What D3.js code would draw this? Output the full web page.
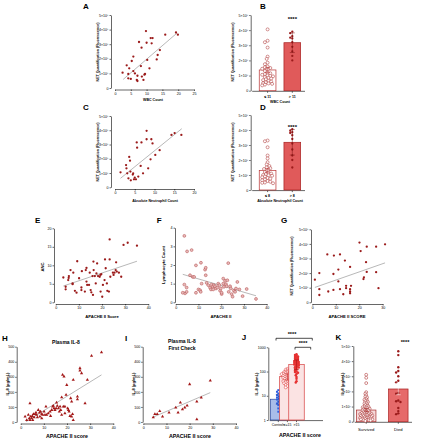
<!DOCTYPE html>
<html><head><meta charset="utf-8">
<script src="https://cdn.jsdelivr.net/npm/d3@7"></script>
<style>body{margin:0;background:#fff}svg{display:block}text{font-family:"Liberation Sans",Arial,sans-serif}</style>
</head><body><script>
// ---------------- DATA ----------------
// A: WBC count vs NET quantification (x10^6)
const ptsA = [[2.4,1.05],[3.7,1.55],[4.2,0.96],[4.5,1.35],[4.2,0.66],[5.0,0.62],[5.3,1.85],[5.8,2.15],[5.8,1.16],[6.3,1.0],[6.9,0.55],[7.1,0.48],[7.1,0.84],[7.6,3.15],[8.2,1.5],[8.4,2.76],[8.5,0.78],[9.0,0.55],[9.3,0.91],[9.5,0.96],[9.8,3.9],[10.0,3.1],[10.2,1.92],[10.9,1.35],[11.3,3.42],[11.6,3.06],[11.9,3.42],[13.2,1.96],[13.5,2.26],[14.2,2.6],[15.9,3.65],[19.3,3.8],[19.9,3.65]];
const fitA = [[2.6,0.59],[19.5,3.74]];
// B: WBC <=11 vs >11
const catsB = ["≤ 11","> 11"];
const grpB1 = [4.05,3.3,3.2,2.85,2.25,2.1,1.85,1.75,1.6,1.55,1.5,1.45,1.4,1.3,1.2,1.15,1.1,1.05,1.0,0.98,0.95,0.9,0.85,0.8,0.75,0.7,0.65,0.6,0.55,0.5,0.48,0.45,0.4,0.35];
const grpB2 = [3.9,3.8,3.6,3.5,3.45,3.2,2.9,2.6,2.3,2.0];
const meanB = [1.37,3.17];
const errB = [0.17,0.65];
// C: ANC vs NET
const ptsC = [[1.4,1.05],[2.8,1.56],[2.9,1.33],[3.1,0.98],[3.4,0.63],[3.6,2.13],[3.8,1.87],[3.9,1.1],[4.0,0.49],[4.5,0.89],[4.6,0.98],[4.8,0.56],[5.0,0.68],[5.3,0.56],[5.5,3.15],[5.6,2.78],[5.9,0.75],[6.5,1.5],[6.7,3.15],[7.1,0.98],[8.0,3.96],[8.0,3.37],[8.4,1.33],[9.2,3.37],[9.5,3.08],[9.0,1.96],[10.2,2.27],[11.3,2.6],[14.3,3.67],[15.1,3.8],[16.8,3.67]];
const fitC = [[1.4,0.63],[16.9,4.11]];
// D: ANC <=8 vs >8
const catsD = ["≤ 8","> 8"];
const grpD1 = [3.3,3.25,2.85,2.3,2.1,1.85,1.7,1.6,1.5,1.45,1.4,1.3,1.2,1.15,1.1,1.05,1.0,0.98,0.95,0.9,0.85,0.8,0.75,0.7,0.65,0.6,0.55,0.5,0.48,0.45];
const grpD2 = [4.05,3.95,3.85,3.8,3.65,3.4,3.1,2.7,2.3,2.0,1.5];
const meanD = [1.31,3.18];
const errD = [0.13,0.85];
// E: APACHE II vs ANC
const ptsE = [[3.3,6.7],[4.3,3.5],[4.3,4.2],[5.4,6.0],[5.6,6.6],[5.7,7.1],[6.4,8.7],[7.3,5.1],[7.3,4.9],[7.6,8.0],[8.3,3.1],[9.0,2.6],[9.3,11.1],[10.1,6.5],[11.1,3.3],[11.1,4.0],[11.3,8.4],[12.6,2.9],[13.0,8.7],[13.3,9.3],[13.3,5.6],[13.6,4.7],[14.4,4.7],[14.7,8.0],[15.1,3.3],[15.4,2.7],[15.9,7.1],[16.1,2.0],[16.3,11.0],[16.4,8.7],[16.9,7.1],[17.3,5.1],[17.6,7.8],[17.9,10.5],[18.3,7.1],[19.0,6.9],[19.3,7.4],[19.4,2.9],[19.7,7.6],[20.1,1.5],[20.4,4.7],[21.1,6.0],[21.6,9.2],[21.3,11.6],[22.1,5.1],[22.3,3.1],[23.0,2.9],[23.3,17.0],[23.3,11.6],[23.6,6.9],[24.7,8.0],[25.0,7.4],[25.4,8.0],[25.9,8.7],[26.1,10.8],[26.4,8.3],[27.3,8.0],[28.3,6.9],[29.3,15.5],[31.1,16.1],[35.1,15.3]];
const fitE = [[3.3,4.4],[35.1,11.1]];
// F: APACHE II vs lymphocyte count
const ptsF = [[3.8,3.56],[5.0,2.73],[7.0,2.8],[3.8,0.95],[4.1,0.48],[4.8,0.79],[4.8,0.56],[3.1,0.51],[6.3,1.45],[7.5,1.36],[8.1,1.36],[8.9,1.98],[8.9,0.51],[10.0,0.69],[10.7,0.65],[11.0,0.56],[11.1,2.12],[11.4,1.0],[12.9,1.75],[13.2,1.45],[13.2,1.85],[13.6,1.04],[14.3,0.92],[15.1,0.78],[15.5,0.69],[15.8,0.95],[16.3,0.83],[16.5,0.69],[16.8,0.92],[17.3,0.86],[17.7,0.74],[18.3,0.79],[18.7,1.0],[19.2,0.92],[19.5,0.62],[19.8,0.74],[20.2,0.44],[20.2,0.51],[20.9,1.27],[20.9,1.0],[21.2,0.83],[21.7,1.15],[22.1,0.97],[22.4,0.86],[22.7,1.18],[23.1,2.1],[23.3,0.56],[23.9,0.86],[24.2,0.74],[24.6,0.44],[25.0,0.3],[25.6,0.62],[26.1,0.56],[26.5,0.74],[27.1,1.09],[28.0,0.69],[29.4,0.33],[31.2,0.71],[35.3,0.18]];
const fitF = [[3.1,1.5],[35.3,0.35]];
// G: APACHE II vs NET
const ptsG = [[1.1,1.55],[3.0,2.0],[3.0,0.9],[3.0,0.5],[6.4,3.28],[6.8,0.74],[9.0,0.85],[9.0,1.94],[9.2,3.2],[11.1,2.24],[11.1,1.43],[11.8,3.28],[11.8,0.9],[13.2,0.55],[13.9,2.86],[14.4,0.97],[14.4,1.13],[16.1,2.42],[16.1,0.9],[16.1,0.62],[16.1,0.74],[16.5,1.13],[20.1,4.09],[20.6,3.51],[21.8,1.59],[22.0,1.71],[22.9,2.75],[23.2,2.08],[23.2,3.81],[27.2,3.81],[27.2,2.06],[28.2,0.97],[31.0,3.97]];
const fitG = [[1.1,1.02],[31,2.7]];
// H: APACHE II vs plasma IL-8
const ptsH = [[1.9,36],[2.6,13],[3.3,47],[3.7,24],[4.0,124],[4.0,13],[4.3,36],[4.7,24],[5.0,40],[5.2,13],[5.5,53],[5.8,31],[6.2,53],[6.6,62],[6.9,47],[7.2,31],[7.6,80],[8.1,62],[8.3,36],[8.6,69],[9.1,24],[9.1,53],[9.5,47],[10.1,69],[10.5,47],[10.9,102],[11.2,47],[11.9,58],[12.7,69],[12.9,40],[13.4,80],[13.8,102],[14.1,107],[14.4,91],[14.8,80],[15.3,91],[15.5,129],[15.8,107],[16.3,91],[16.7,69],[17.0,102],[17.3,80],[17.7,164],[17.7,47],[18.1,313],[18.4,102],[18.7,302],[19.1,102],[19.1,58],[19.6,180],[19.9,246],[20.3,91],[20.6,80],[20.9,69],[21.3,40],[21.6,158],[22.0,36],[22.0,135],[22.4,53],[22.7,280],[22.7,13],[24.5,151],[24.5,169],[25.6,357],[25.6,342],[26.3,324],[27.8,124],[28.8,280],[30.6,440],[34.9,462]];
const fitH = [[2.3,2],[34.9,313]];
// I: first check
const ptsI = [[4.3,31],[5.0,53],[6.0,53],[7.1,73],[8.3,36],[11.1,62],[14.0,95],[15.0,62],[16.0,129],[16.9,84],[17.9,95],[18.9,109],[20.0,251],[23.1,135],[23.1,18],[25.0,162],[28.9,275]];
const fitI = [[4,31],[28.9,195]];
// J: IL-8 by group (log)
const catsJ = ["Controls","<=15",">15"];
const grpJ0 = [17,14.6,12.5,10.6,9.5,8.5,7.8,7,6.6,5.7,4.8,4.1,3.0,2.2];
const grpJ1 = [130,120,110,105,100,95,92,90,88,85,82,80,78,76,74,72,70,68,66,64,62,60,58,56,55,54,52,50,48,46,45,44,42,40,38,36,35,33,30,28,25,22];
const grpJ2 = [520,480,450,420,400,380,360,340,320,300,280,270,260,250,240,230,220,210,200,195,190,180,170,160,150,145,140,130,120,110,100,95,90,80,70,60,50,40,35];
const meanJ = [7.2,62,194];
const loJ = [4.5,45,120];
const hiJ = [11.5,80,300];
// K: survived vs died
const catsK = ["Survived","Died"];
const grpK1 = [310,290,255,195,185,175,165,160,150,145,140,135,130,125,120,115,110,105,100,100,95,95,90,90,85,85,80,80,75,75,70,70,65,65,60,60,58,55,55,52,50,50,48,45,45,42,40,40,38,35,35,32,30,30,28,25,25,22,20,20,18,15,15,12,10,10,8,5];
const grpK2 = [465,440,360,335,325,300,270,260,190,185,140,135,130,90,70,55,50];
const meanK = [77,216];
const errK = [10,38];
const ticksNET = [0,1,2,3,4,5];

// ---------------- DRAW ----------------
const svg = d3.select("body").append("svg").attr("width",424).attr("height",440);
const DARK = "#9b1b1b";
const fmtE6 = d => d === 0 ? "0" : d + "×10⁶";
const fmtE2 = d => d === 0 ? "0" : d + "×10²";

function styleAxis(g, fs){
  g.selectAll("path,line").attr("stroke","#000").attr("stroke-width",0.6);
  g.selectAll("text").attr("font-size",fs).attr("fill","#000");
}
function text(x,y,s,o={}){
  const t = svg.append("text").attr("x",x).attr("y",y).text(s)
    .attr("font-size",o.fs||4).attr("text-anchor",o.anchor||"middle")
    .attr("font-weight",o.bold?"bold":"normal").attr("fill",o.fill||"#000");
  if(o.rot) t.attr("transform",`rotate(-90,${x},${y})`);
  return t;
}
function yAxis(x, scale, ticks, fmt, fs){
  svg.append("g").attr("transform",`translate(${x},0)`)
    .call(d3.axisLeft(scale).tickValues(ticks).tickFormat(fmt).tickSize(1.5).tickSizeOuter(0).tickPadding(1))
    .call(g=>styleAxis(g,fs||3.6));
}
function xAxis(y, scale, ticks, fs){
  svg.append("g").attr("transform",`translate(0,${y})`)
    .call(d3.axisBottom(scale).tickValues(ticks).tickSize(1.5).tickSizeOuter(0).tickPadding(1))
    .call(g=>styleAxis(g,fs||3.6));
}

function scatter(o){
  const x = d3.scaleLinear().domain(o.xd).range(o.xr);
  const y = d3.scaleLinear().domain(o.yd).range(o.yr);
  yAxis(o.ay, y, o.yt, o.yfmt || (d=>d), o.tfs);
  xAxis(o.ax, x, o.xt, o.tfs);
  svg.append("line").attr("x1",x(o.fit[0][0])).attr("y1",y(o.fit[0][1]))
    .attr("x2",x(o.fit[1][0])).attr("y2",y(o.fit[1][1]))
    .attr("stroke","#9a9a9a").attr("stroke-width",0.7);
  const g = svg.append("g");
  if(o.mark === "tri"){
    g.selectAll("path").data(o.data).join("path")
      .attr("transform",d=>`translate(${x(d[0])},${y(d[1])})`)
      .attr("d",d3.symbol(d3.symbolTriangle,4.5)).attr("fill","#a31818");
  } else if(o.mark === "ring"){
    g.selectAll("circle").data(o.data).join("circle")
      .attr("cx",d=>x(d[0])).attr("cy",d=>y(d[1])).attr("r",1.45)
      .attr("fill","#e7b9b9").attr("stroke","#b04848").attr("stroke-width",0.5);
  } else {
    g.selectAll("circle").data(o.data).join("circle")
      .attr("cx",d=>x(d[0])).attr("cy",d=>y(d[1])).attr("r",1.15).attr("fill",DARK);
  }
  return {x,y};
}

// beeswarm-like placement limited to a half width
function swarm(vals, y, cx, r, maxHalf, sepF){
  const pts = vals.map(v=>({v, py:y(v)})).sort((a,b)=>a.py-b.py);
  const placed = [];
  const step = r*0.6;
  const cands = [0];
  for(let k=1; k*step<=maxHalf; k++){ cands.push(-k*step, k*step); }
  const need = 2*r*sepF;
  for(const p of pts){
    let best = cands[0], bestD = -1;
    for(const off of cands){
      const px = cx+off;
      let md = Infinity;
      for(const q of placed){ const d = Math.hypot(q.px-px,q.py-p.py); if(d<md) md=d; }
      if(md >= need){ best = off; bestD = md; break; }
      if(md > bestD){ bestD = md; best = off; }
    }
    p.px = cx+best; placed.push(p);
  }
  return placed;
}

function marks(g, pts, type, st){
  if(type==="square"){
    g.selectAll(null).data(pts).join("rect")
      .attr("x",d=>d.px-1).attr("y",d=>d.py-1).attr("width",2).attr("height",2).attr("fill",st.fill);
  } else {
    g.selectAll(null).data(pts).join("circle")
      .attr("cx",d=>d.px).attr("cy",d=>d.py).attr("r",st.r)
      .attr("fill",st.fill).attr("stroke",st.stroke||"none").attr("stroke-width",st.sw||0);
  }
}

function barPanel(o){
  const y = o.y;
  const x = d3.scalePoint().domain(o.cats).range(o.centers);
  yAxis(o.ay, y, o.yt, o.yfmt, o.tfs);
  const xa = svg.append("g");
  xa.append("line").attr("x1",o.ay+1.5).attr("x2",o.xEnd).attr("y1",o.ax).attr("y2",o.ax)
    .attr("stroke","#000").attr("stroke-width",0.6);
  o.cats.forEach(c=>{
    xa.append("line").attr("x1",x(c)).attr("x2",x(c)).attr("y1",o.ax).attr("y2",o.ax+1.5)
      .attr("stroke","#000").attr("stroke-width",0.6);
    text(x(c), o.labY, c, {fs:o.lfs||3.8, bold:o.lbold});
  });
  o.cats.forEach((c,i)=>{
    const s = o.styles[i];
    const top = y(o.means[i]);
    svg.append("rect").attr("x",x(c)-o.bw/2).attr("y",top).attr("width",o.bw)
      .attr("height",o.base-top).attr("fill",s.bar).attr("stroke",s.barStroke).attr("stroke-width",0.7);
    const g = svg.append("g");
    marks(g, swarm(o.groups[i], y, x(c), s.r, s.half||6, s.sep||0.85), s.type, s);
    const lo = o.lo ? o.lo[i] : o.means[i]-o.errs[i];
    const hi = o.hi ? o.hi[i] : o.means[i]+o.errs[i];
    const eg = svg.append("g").attr("stroke",s.err).attr("stroke-width",0.5);
    eg.append("line").attr("x1",x(c)).attr("x2",x(c)).attr("y1",y(lo)).attr("y2",y(hi));
    [lo,hi].forEach(v=>eg.append("line").attr("x1",x(c)-2.5).attr("x2",x(c)+2.5).attr("y1",y(v)).attr("y2",y(v)));
  });
  return x;
}

// ---- Panel A ----
text(86,9,"A",{fs:8,bold:true,anchor:"middle"});
scatter({data:ptsA, fit:fitA, xd:[0,25], xr:[115,194], yd:[0,5], yr:[88,15], xt:[0,5,10,15,20,25], yt:ticksNET, yfmt:fmtE6, ax:89.5, ay:111});
text(153,101,"WBC Count",{fs:3.6,bold:true});
text(99,52,"NET Quantification (Fluorescence)",{fs:3.6,bold:true,rot:true});

// ---- Panel B ----
text(263,9,"B",{fs:8,bold:true});
const yB = d3.scaleLinear().domain([0,5]).range([90.7,15]);
const stOpen = {type:"circle", r:1.5, fill:"#fff", stroke:"#b03a3a", sw:0.55, bar:"#fff", barStroke:"#b83030", err:"#b83030", half:6.5, sep:0.8};
const stFill = {type:"circle", r:1.15, fill:DARK, bar:"#e05a5a", barStroke:"#a82020", err:"#7a1010", half:5, sep:0.9};
barPanel({cats:catsB, centers:[267.6,292.3], bw:16.7, y:yB, base:90.7, ay:250.7, ax:91.3, xEnd:305, labY:98, lbold:true, lfs:3.6,
  yt:ticksNET, yfmt:fmtE6, groups:[grpB1,grpB2], means:meanB, errs:errB, styles:[stOpen,stFill]});
text(280,103.3,"WBC Count",{fs:3.6,bold:true});
text(292.3,20.5,"****",{fs:6,bold:true});
text(234,52,"NET Quantification (Fluorescence)",{fs:3.6,bold:true,rot:true});

// ---- Panel C ----
text(86,110,"C",{fs:8,bold:true});
scatter({data:ptsC, fit:fitC, xd:[0,20], xr:[115,194], yd:[0,5], yr:[187.3,116], xt:[0,5,10,15,20], yt:ticksNET, yfmt:fmtE6, ax:189, ay:111});
text(155,202,"Absolute  Neutrophil  Count",{fs:3.6,bold:true});
text(99,152,"NET Quantification (Fluorescence)",{fs:3.6,bold:true,rot:true});

// ---- Panel D ----
text(263,110,"D",{fs:8,bold:true});
const yD = d3.scaleLinear().domain([0,5]).range([190,115]);
barPanel({cats:catsD, centers:[267.6,292.3], bw:16.7, y:yD, base:190, ay:250.7, ax:190.6, xEnd:305, labY:197.3, lbold:true, lfs:3.6,
  yt:ticksNET, yfmt:fmtE6, groups:[grpD1,grpD2], means:meanD, errs:errD, styles:[stOpen,stFill]});
text(280,202,"Absolute  Neutrophil  Count",{fs:3.6,bold:true});
text(292.3,128.5,"****",{fs:6,bold:true});
text(234,152,"NET Quantification (Fluorescence)",{fs:3.6,bold:true,rot:true});

// ---- Panel E ----
text(37.7,223,"E",{fs:8,bold:true});
scatter({data:ptsE, fit:fitE, xd:[0,40], xr:[55.7,148.3], yd:[0,20], yr:[302.3,228.3], xt:[0,10,20,30,40], yt:[0,5,10,15,20], ax:304, ay:54});
text(102,317.5,"APACHE II Score",{fs:4.2,bold:true});
text(44,267,"ANC",{fs:4.2,bold:true,rot:true});

// ---- Panel F ----
text(159.3,223,"F",{fs:8,bold:true});
scatter({data:ptsF, fit:fitF, xd:[0,40], xr:[175.7,266.7], yd:[0,4], yr:[302.3,227.7], xt:[0,10,20,30,40], yt:[0,1,2,3,4], ax:304, ay:175, mark:"ring"});
text(221,317.5,"APACHE II",{fs:4.2,bold:true});
text(165,265,"Lymphocyte Count",{fs:4.2,bold:true,rot:true});

// ---- Panel G ----
text(284,223,"G",{fs:8,bold:true});
scatter({data:ptsG, fit:fitG, xd:[0,30], xr:[312.3,382.7], yd:[0,5], yr:[302.3,229.3], xt:[0,10,20,30], yt:ticksNET, yfmt:fmtE6, ax:304, ay:311});
text(347,317.5,"APACHE  II  SCORE",{fs:4.2,bold:true});
text(292.5,266,"NET Quantification (Fluorescence)",{fs:3.6,bold:true,rot:true});

// ---- Panel H ----
text(5,341,"H",{fs:8,bold:true});
text(66,344,"Plasma IL-8",{fs:5,bold:true});
scatter({data:ptsH, fit:fitH, xd:[0,40], xr:[20.7,113.3], yd:[0,500], yr:[422,346.7], xt:[0,10,20,30,40], yt:[0,100,200,300,400,500], ax:423.5, ay:16.7, mark:"tri"});
text(67,437.5,"APACHE II score",{fs:5.3,bold:true});
text(8.5,384,"IL-8 (pg/mL)",{fs:4,bold:true,rot:true});

// ---- Panel I ----
text(126,341,"I",{fs:8,bold:true});
text(182,343,"Plasma IL-8",{fs:5,bold:true});
text(182,350,"First Check",{fs:5,bold:true});
scatter({data:ptsI, fit:fitI, xd:[0,40], xr:[143.3,236], yd:[0,500], yr:[422,346.7], xt:[0,10,20,30,40], yt:[0,100,200,300,400,500], ax:423.5, ay:142.7, mark:"tri"});
text(190,437.5,"APACHE II score",{fs:5.3,bold:true});
text(134.5,384,"IL-8 (pg/mL)",{fs:4,bold:true,rot:true});

// ---- Panel J ----
text(244,340,"J",{fs:8,bold:true});
const yJ = d3.scaleLog().domain([1,1000]).range([420,347.3]);
barPanel({cats:catsJ, centers:[278.3,296.5,314], bw:15.5, y:yJ, base:420, ay:268.3, ax:420.6, xEnd:323, labY:425.5, lfs:3.5,
  yt:[1,10,100,1000], yfmt:d=>String(d), groups:[grpJ0,grpJ1,grpJ2], means:meanJ, lo:loJ, hi:hiJ,
  styles:[
    {type:"square", r:1.1, fill:"#2f5fe0", bar:"#a9bde9", barStroke:"#27479f", err:"#27479f", half:5, sep:0.9},
    {type:"circle", r:1.4, fill:"#fff", stroke:"#e03c3c", sw:0.55, bar:"#fbe3e3", barStroke:"#d64040", err:"#c02020", half:6.5, sep:0.6},
    {type:"circle", r:1.25, fill:"#e63232", bar:"#fbe3e3", barStroke:"#d64040", err:"#a01010", half:6.5, sep:0.6}]});
text(300,436.5,"APACHE II score",{fs:5.3,bold:true});
text(258,384,"IL-8 (pg/mL)",{fs:4,bold:true,rot:true});
const br = svg.append("g").attr("stroke","#000").attr("stroke-width",0.7).attr("fill","none");
br.append("path").attr("d","M276,340.5V338.3H312.3V340.5");
br.append("path").attr("d","M295,349.5V347.3H310.7V349.5");
text(292,336,"****",{fs:5.5,bold:true});
text(303,345.3,"****",{fs:5.5,bold:true});

// ---- Panel K ----
text(338.3,340,"K",{fs:8,bold:true});
const yK = d3.scaleLinear().domain([0,500]).range([421.7,346]);
barPanel({cats:catsK, centers:[366.2,398.3], bw:19.5, y:yK, base:421.7, ay:353.3, ax:422.3, xEnd:412, labY:430.5, lfs:4.2,
  yt:[0,100,200,300,400,500], yfmt:d=>fmtE2(d/100), groups:[grpK1,grpK2], means:meanK, errs:errK,
  styles:[
    {type:"circle", r:1.45, fill:"#fff", stroke:"#a82c2c", sw:0.55, bar:"#f6d9d9", barStroke:"#a82c2c", err:"#a82c2c", half:8.5, sep:0.6},
    {type:"circle", r:1.2, fill:DARK, bar:"#e66a6a", barStroke:"#a82020", err:"#fff", half:6, sep:0.9}]});
text(405,343.5,"****",{fs:5.5,bold:true});
text(343.5,384,"IL-8 (pg/mL)",{fs:4,bold:true,rot:true});
</script></body></html>
